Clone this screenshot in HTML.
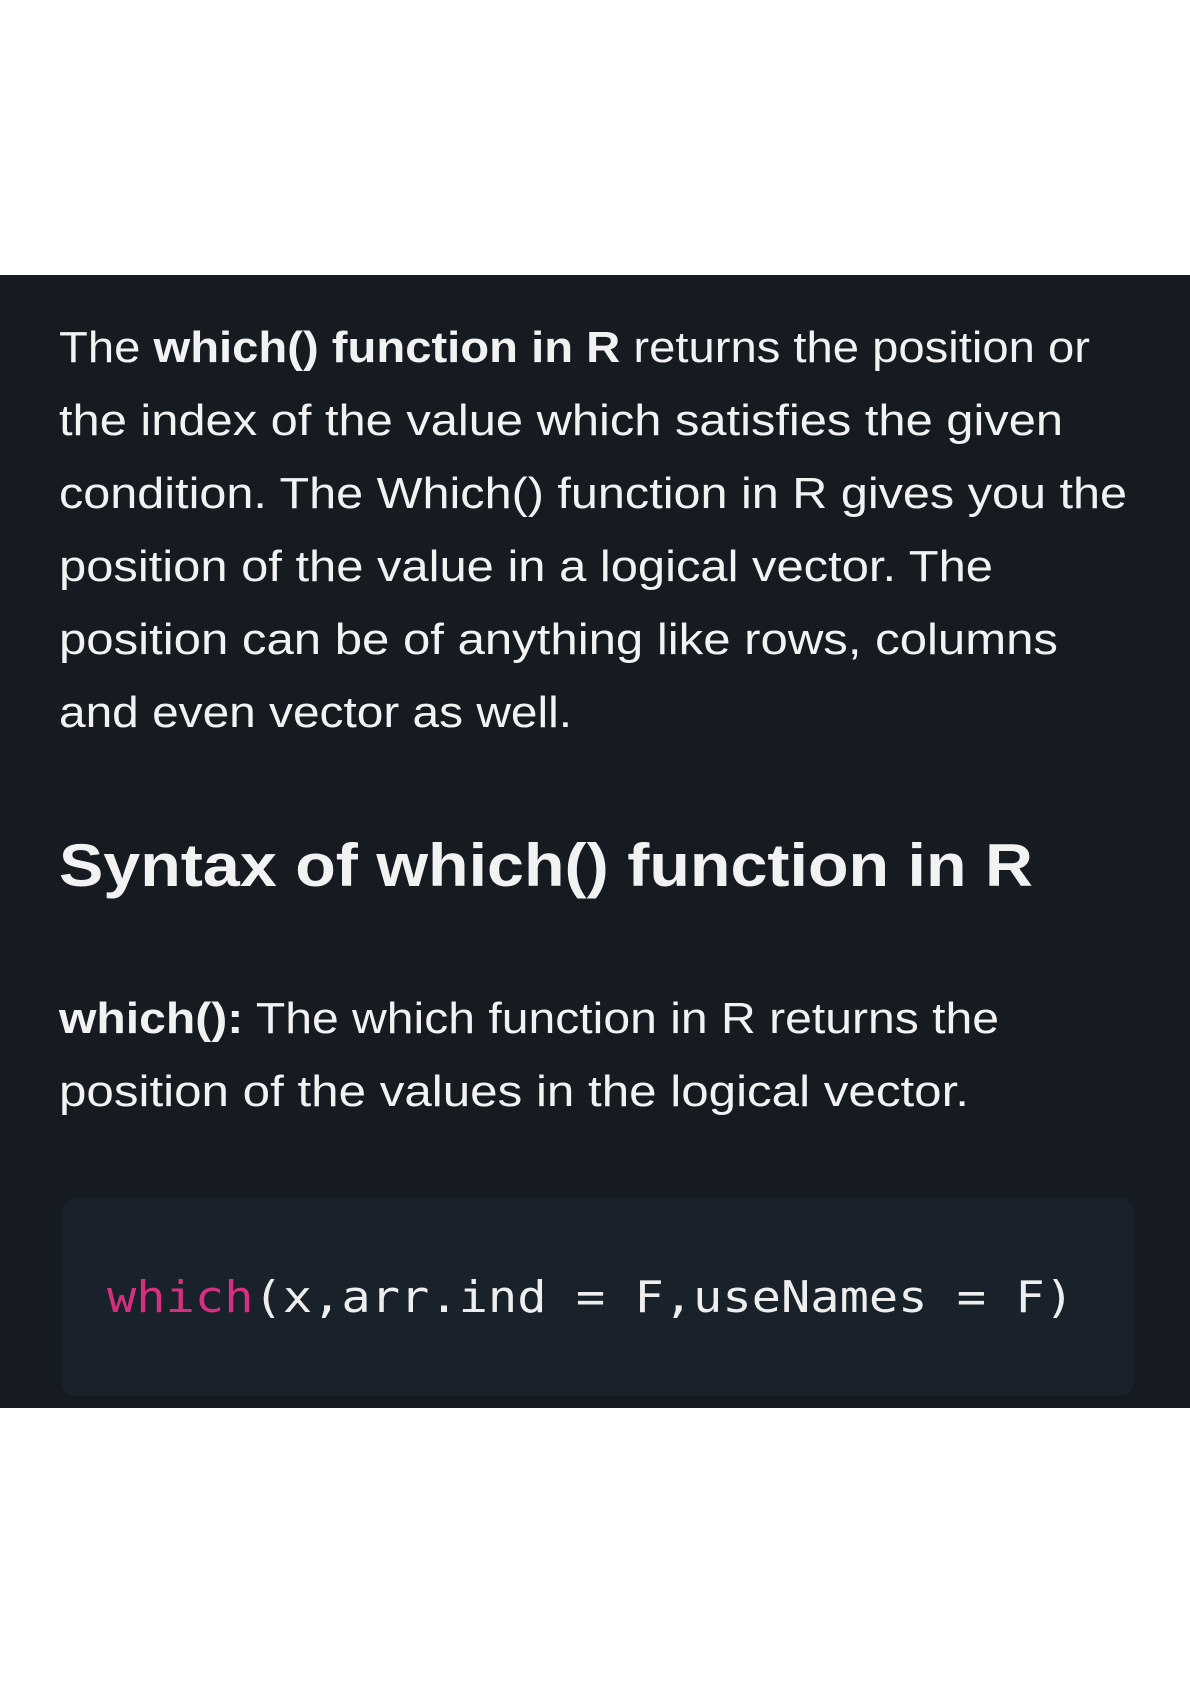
<!DOCTYPE html>
<html><head><meta charset="utf-8"><style>
html,body{margin:0;padding:0;background:#fff;}
svg{display:block}
</style></head><body>
<svg width="1190" height="1684" viewBox="0 0 1190 1684" xmlns="http://www.w3.org/2000/svg">
<rect x="0" y="0" width="1190" height="1684" fill="#ffffff"/>
<rect x="0" y="275" width="1190" height="133" fill="#161b22"/>
<rect x="0" y="275" width="1190" height="1133" fill="#161b22"/>
<rect x="62" y="1198" width="1072" height="198" rx="14" fill="#19212a"/>
<g font-family="Liberation Sans, sans-serif" font-size="44" fill="#f2f2f2">
<text x="59" y="362" textLength="1031" lengthAdjust="spacingAndGlyphs">The <tspan font-weight="bold">which() function in R</tspan> returns the position or</text>
<text x="59" y="435" textLength="1004" lengthAdjust="spacingAndGlyphs">the index of the value which satisfies the given</text>
<text x="59" y="508" textLength="1068" lengthAdjust="spacingAndGlyphs">condition. The Which() function in R gives you the</text>
<text x="59" y="581" textLength="934" lengthAdjust="spacingAndGlyphs">position of the value in a logical vector. The</text>
<text x="59" y="654" textLength="999" lengthAdjust="spacingAndGlyphs">position can be of anything like rows, columns</text>
<text x="59" y="727" textLength="513" lengthAdjust="spacingAndGlyphs">and even vector as well.</text>
<text x="59" y="886" font-size="60" font-weight="bold" textLength="974" lengthAdjust="spacingAndGlyphs">Syntax of which() function in R</text>
<text x="59" y="1033" textLength="940" lengthAdjust="spacingAndGlyphs"><tspan font-weight="bold">which():</tspan> The which function in R returns the</text>
<text x="59" y="1106" textLength="910" lengthAdjust="spacingAndGlyphs">position of the values in the logical vector.</text>
</g>
<text x="107" y="1312" font-family="DejaVu Sans Mono, Liberation Mono, monospace" font-size="44" fill="#eeeeee" textLength="967" lengthAdjust="spacingAndGlyphs"><tspan fill="#d4307f">which</tspan>(x,arr.ind = F,useNames = F)</text>
</svg>
</body></html>
